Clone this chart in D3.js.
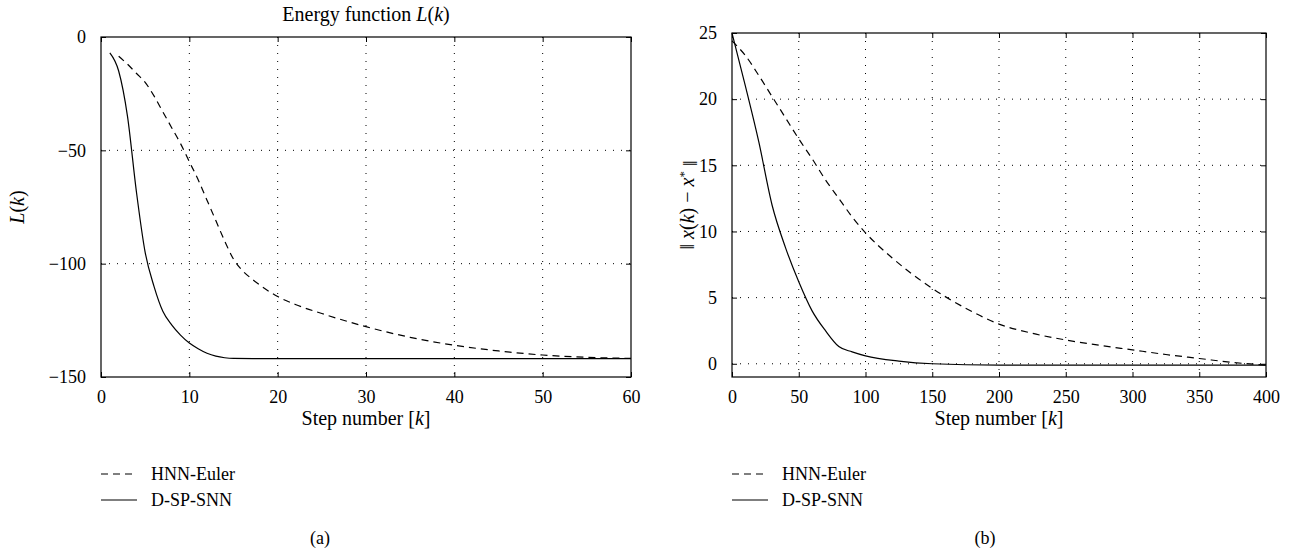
<!DOCTYPE html>
<html>
<head>
<meta charset="utf-8">
<script src="https://cdn.jsdelivr.net/npm/d3@7"></script>
<style>
  body { margin: 0; background: #fff; }
  svg { display: block; font-family: "Liberation Serif", "DejaVu Serif", serif; }
  svg text { font-family: "Liberation Serif", "DejaVu Serif", serif; }
  .grid line { stroke: #000; stroke-width: 1; stroke-dasharray: 1,7; }
</style>
</head>
<body>
<svg id="chart" width="1292" height="558"></svg>
<script>
// panel (a): energy function L(k)
const energyHnnK = [2, 3, 4, 5, 6, 7, 8, 9, 10, 11, 12, 13, 14, 15, 16, 17, 18, 20, 22, 25, 30, 35, 40, 45, 50, 55, 60];
const energyHnnL = [-8.5, -12, -16, -20, -26, -33, -40, -47, -55, -63, -72, -81, -90, -98, -103, -106.5, -109.5, -114.5, -118, -122, -127.8, -132.5, -136, -138.5, -140.3, -141.3, -141.8];
const energySnnK = [1, 2, 3, 4, 5, 6, 7, 8, 9, 10, 11, 12, 13, 14, 15, 20, 30, 40, 50, 60];
const energySnnL = [-7, -15, -35, -68, -95, -110, -121, -127, -131.5, -135, -137.5, -139.5, -140.8, -141.5, -141.8, -141.9, -141.9, -141.9, -141.9, -141.9];
const energyXTicks = [0, 10, 20, 30, 40, 50, 60];
const energyYTicks = [0, -50, -100, -150];

// panel (b): ||x(k) - x*||
const errorHnnK = [0, 10, 20, 30, 40, 50, 60, 70, 80, 90, 100, 120, 150, 175, 200, 225, 250, 275, 300, 325, 350, 375, 400];
const errorHnnE = [24.4, 23.3, 21.8, 20.2, 18.6, 17.0, 15.5, 13.9, 12.5, 11.1, 9.9, 8.0, 5.7, 4.2, 3.0, 2.3, 1.8, 1.4, 1.05, 0.7, 0.4, 0.1, -0.1];
const errorSnnK = [0, 10, 20, 30, 40, 50, 60, 70, 80, 90, 100, 125, 150, 200, 250, 300, 350, 400];
const errorSnnE = [25, 21, 16.8, 12.0, 8.8, 6.2, 4.0, 2.5, 1.3, 0.9, 0.6, 0.2, 0.0, -0.1, -0.1, -0.1, -0.1, -0.1];
const errorXTicks = [0, 50, 100, 150, 200, 250, 300, 350, 400];
const errorYTicks = [0, 5, 10, 15, 20, 25];

const legendLabels = ['HNN-Euler', 'D-SP-SNN'];

const svg = d3.select('#chart');

function drawPanel(opt) {
  const x = d3.scaleLinear().domain(opt.xDomain).range([opt.left, opt.right]);
  const y = d3.scaleLinear().domain(opt.yDomain).range([opt.bottom, opt.top]);
  const g = svg.append('g');
  const tickLen = 5;

  // dotted grid
  const grid = g.append('g').attr('class', 'grid');
  grid.selectAll('.vx').data(opt.xTicks.filter(t => x(t) > opt.left + 1 && x(t) < opt.right - 1))
    .enter().append('line')
      .attr('x1', d => x(d)).attr('x2', d => x(d))
      .attr('y1', opt.top).attr('y2', opt.bottom);
  grid.selectAll('.hy').data(opt.yTicks.filter(t => y(t) > opt.top + 1 && y(t) < opt.bottom - 1))
    .enter().append('line')
      .attr('x1', opt.left).attr('x2', opt.right)
      .attr('y1', d => y(d)).attr('y2', d => y(d));

  // inner ticks on all four sides
  const axisFmt = d => d < 0 ? '\u2212' + Math.abs(d) : d;
  const styleAxis = a => {
    a.attr('font-family', null).attr('font-size', null);
    a.select('.domain').remove();
    a.selectAll('line').attr('stroke', '#000');
    a.selectAll('text').attr('fill', '#000').style('font-size', '18px');
  };
  g.append('g').attr('transform', `translate(0,${opt.bottom})`)
    .call(d3.axisBottom(x).tickValues(opt.xTicks).tickSize(-tickLen).tickPadding(13).tickFormat(axisFmt))
    .call(styleAxis);
  g.append('g').attr('transform', `translate(0,${opt.top})`)
    .call(d3.axisTop(x).tickValues(opt.xTicks).tickSize(-tickLen).tickFormat(''))
    .call(styleAxis);
  g.append('g').attr('transform', `translate(${opt.left},0)`)
    .call(d3.axisLeft(y).tickValues(opt.yTicks).tickSize(-tickLen).tickPadding(15).tickFormat(axisFmt))
    .call(styleAxis);
  g.append('g').attr('transform', `translate(${opt.right},0)`)
    .call(d3.axisRight(y).tickValues(opt.yTicks).tickSize(-tickLen).tickFormat(''))
    .call(styleAxis);

  // curves
  const line = d3.line().x(d => x(d[0])).y(d => y(d[1])).curve(d3.curveMonotoneX);
  g.append('path')
    .datum(d3.zip(opt.hnnK, opt.hnnV))
    .attr('d', line)
    .attr('fill', 'none').attr('stroke', '#000').attr('stroke-width', 1.2)
    .attr('stroke-dasharray', '7,5');
  g.append('path')
    .datum(d3.zip(opt.snnK, opt.snnV))
    .attr('d', line)
    .attr('fill', 'none').attr('stroke', '#000').attr('stroke-width', 1.2);

  // frame
  g.append('rect')
    .attr('x', opt.left).attr('y', opt.top)
    .attr('width', opt.right - opt.left).attr('height', opt.bottom - opt.top)
    .attr('fill', 'none').attr('stroke', '#000').attr('stroke-width', 1.2);

  const cx = (opt.left + opt.right) / 2;

  // x label
  const xl = g.append('text')
    .attr('x', cx).attr('y', 425)
    .attr('text-anchor', 'middle').style('font-size', '20px');
  xl.append('tspan').text('Step number [');
  xl.append('tspan').style('font-style', 'italic').text('k');
  xl.append('tspan').text(']');

  // y label
  const yl = g.append('text')
    .attr('transform', `translate(${opt.yLabelX},${opt.yLabelY}) rotate(-90)`)
    .attr('text-anchor', 'middle').style('font-size', '20px');
  opt.yLabel.forEach(p => {
    const t = yl.append('tspan').text(p.t);
    if (p.i) t.style('font-style', 'italic');
    if (p.sup) t.attr('dy', '-0.45em').style('font-size', '13px');
    if (p.down) t.attr('dy', '0.45em');
  });

  // legend
  legendLabels.forEach((lab, i) => {
    const ly = 474 + i * 26;
    g.append('line')
      .attr('x1', opt.left).attr('x2', opt.left + 36)
      .attr('y1', ly).attr('y2', ly)
      .attr('stroke', '#000').attr('stroke-width', 1.2)
      .attr('stroke-dasharray', i === 0 ? '7,5' : null);
    g.append('text')
      .attr('x', opt.left + 50).attr('y', ly + 6)
      .style('font-size', '18px').text(lab);
  });

  // panel caption
  g.append('text')
    .attr('x', opt.captionX).attr('y', 544)
    .attr('text-anchor', 'middle').style('font-size', '18px').text(opt.caption);

  return cx;
}

const cxA = drawPanel({
  left: 101, right: 631, top: 37, bottom: 377,
  xDomain: [0, 60], yDomain: [-150, 0],
  xTicks: energyXTicks, yTicks: energyYTicks,
  hnnK: energyHnnK, hnnV: energyHnnL, snnK: energySnnK, snnV: energySnnL,
  yLabelX: 24, yLabelY: 207,
  yLabel: [{ t: 'L', i: true }, { t: '(' }, { t: 'k', i: true }, { t: ')' }],
  caption: '(a)', captionX: 320
});

drawPanel({
  left: 732, right: 1266, top: 33, bottom: 377,
  xDomain: [0, 400], yDomain: [-1, 25],
  xTicks: errorXTicks, yTicks: errorYTicks,
  hnnK: errorHnnK, hnnV: errorHnnE, snnK: errorSnnK, snnV: errorSnnE,
  yLabelX: 694, yLabelY: 205,
  yLabel: [{ t: '\u2016 ' }, { t: 'x', i: true }, { t: '(' }, { t: 'k', i: true }, { t: ') \u2212 ' },
           { t: 'x', i: true }, { t: '*', sup: true }, { t: ' \u2016', down: true }],
  caption: '(b)', captionX: 985
});

// title of panel (a)
const title = svg.append('text')
  .attr('x', cxA).attr('y', 21)
  .attr('text-anchor', 'middle').style('font-size', '20px');
title.append('tspan').text('Energy function ');
title.append('tspan').style('font-style', 'italic').text('L');
title.append('tspan').text('(');
title.append('tspan').style('font-style', 'italic').text('k');
title.append('tspan').text(')');
</script>
</body>
</html>
